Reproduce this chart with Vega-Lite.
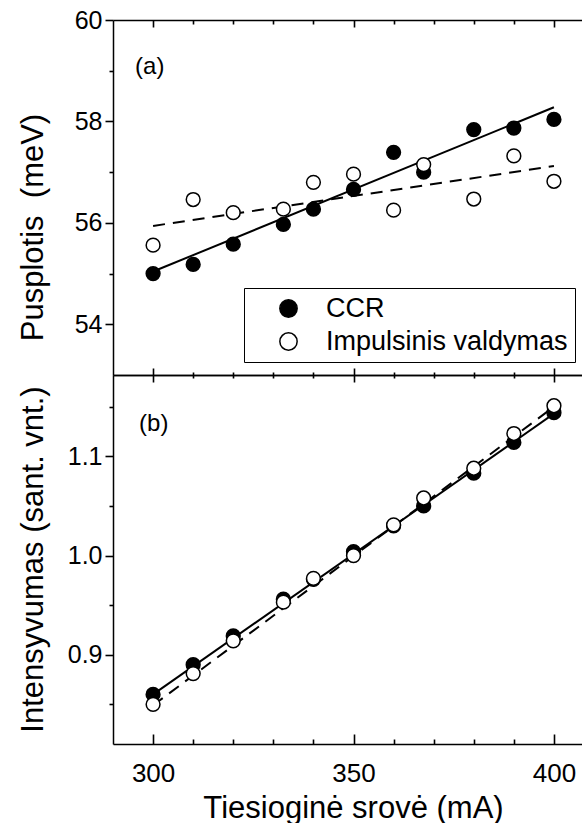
{
  "$schema": "https://vega.github.io/schema/vega-lite/v6.json",
  "padding": {"left": 16, "top": 8, "right": 0, "bottom": 0},
  "spacing": 0,
  "bounds": "flush",
  "background": "white",
  "config": {
    "font": "Liberation Sans",
    "view": {"stroke": null},
    "axis": {
      "domainColor": "black", "domainWidth": 1.5, "tickColor": "black", "tickWidth": 1.6,
      "labelColor": "black", "titleColor": "black", "labelFontSize": 25, "titleFontSize": 31,
      "titleFontWeight": "normal", "grid": false, "labelOverlap": false,
      "labelFont": "Liberation Sans", "titleFont": "Liberation Sans"
    }
  },
  "datasets": {
    "widthPoints": [
      {"series": "CCR", "current": 300, "value": 55.0},
      {"series": "CCR", "current": 310, "value": 55.18},
      {"series": "CCR", "current": 320, "value": 55.58},
      {"series": "CCR", "current": 332.5, "value": 55.97},
      {"series": "CCR", "current": 340, "value": 56.27},
      {"series": "CCR", "current": 350, "value": 56.66},
      {"series": "CCR", "current": 360, "value": 57.39},
      {"series": "CCR", "current": 367.5, "value": 57.0},
      {"series": "CCR", "current": 380, "value": 57.84},
      {"series": "CCR", "current": 390, "value": 57.87},
      {"series": "CCR", "current": 400, "value": 58.04},
      {"series": "Impulsinis valdymas", "current": 300, "value": 55.56},
      {"series": "Impulsinis valdymas", "current": 310, "value": 56.46},
      {"series": "Impulsinis valdymas", "current": 320, "value": 56.2},
      {"series": "Impulsinis valdymas", "current": 332.5, "value": 56.27},
      {"series": "Impulsinis valdymas", "current": 340, "value": 56.8},
      {"series": "Impulsinis valdymas", "current": 350, "value": 56.96},
      {"series": "Impulsinis valdymas", "current": 360, "value": 56.25},
      {"series": "Impulsinis valdymas", "current": 367.5, "value": 57.15},
      {"series": "Impulsinis valdymas", "current": 380, "value": 56.47},
      {"series": "Impulsinis valdymas", "current": 390, "value": 57.32},
      {"series": "Impulsinis valdymas", "current": 400, "value": 56.82}
    ],
    "widthFits": [
      {"series": "CCR", "current": 300, "value": 55.04},
      {"series": "CCR", "current": 400, "value": 58.28},
      {"series": "Impulsinis valdymas", "current": 300, "value": 55.94},
      {"series": "Impulsinis valdymas", "current": 400, "value": 57.12}
    ],
    "intPoints": [
      {"series": "CCR", "current": 300, "value": 0.86},
      {"series": "CCR", "current": 310, "value": 0.89},
      {"series": "CCR", "current": 320, "value": 0.919},
      {"series": "CCR", "current": 332.5, "value": 0.956},
      {"series": "CCR", "current": 340, "value": 0.976},
      {"series": "CCR", "current": 350, "value": 1.004},
      {"series": "CCR", "current": 360, "value": 1.03},
      {"series": "CCR", "current": 367.5, "value": 1.05},
      {"series": "CCR", "current": 380, "value": 1.083},
      {"series": "CCR", "current": 390, "value": 1.114},
      {"series": "CCR", "current": 400, "value": 1.144},
      {"series": "Impulsinis valdymas", "current": 300, "value": 0.85},
      {"series": "Impulsinis valdymas", "current": 310, "value": 0.881},
      {"series": "Impulsinis valdymas", "current": 320, "value": 0.914},
      {"series": "Impulsinis valdymas", "current": 332.5, "value": 0.953},
      {"series": "Impulsinis valdymas", "current": 340, "value": 0.977},
      {"series": "Impulsinis valdymas", "current": 350, "value": 1.0},
      {"series": "Impulsinis valdymas", "current": 360, "value": 1.031},
      {"series": "Impulsinis valdymas", "current": 367.5, "value": 1.058},
      {"series": "Impulsinis valdymas", "current": 380, "value": 1.088},
      {"series": "Impulsinis valdymas", "current": 390, "value": 1.123},
      {"series": "Impulsinis valdymas", "current": 400, "value": 1.151}
    ],
    "intFits": [
      {"series": "CCR", "current": 300, "value": 0.86},
      {"series": "CCR", "current": 400, "value": 1.143},
      {"series": "Impulsinis valdymas", "current": 300, "value": 0.849},
      {"series": "Impulsinis valdymas", "current": 400, "value": 1.15}
    ]
  },
  "resolve": {"legend": {"fill": "independent"}},
  "vconcat": [
    {
      "width": 471,
      "height": 355,
      "layer": [
        {
          "data": {"name": "widthFits"},
          "transform": [{"filter": "datum.series === 'CCR'"}],
          "mark": {"type": "line", "color": "black", "strokeWidth": 2},
          "encoding": {
            "x": {"field": "current", "type": "quantitative",
              "scale": {"domain": [290, 407.5], "nice": false, "zero": false},
              "axis": {"orient": "bottom", "offset": -355, "values": [300, 350, 400],
                "labels": false, "title": null, "tickSize": 7, "domain": true}},
            "y": {"field": "value", "type": "quantitative",
              "scale": {"domain": [53, 60], "nice": false, "zero": false},
              "axis": {"orient": "left", "values": [54, 55, 56, 57, 58, 59, 60],
                "tickSize": {"condition": {"test": "datum.value % 2 === 0", "value": 8}, "value": 4},
                "labelPadding": 3,
                "labelExpr": "datum.value % 2 === 0 ? datum.label : ''",
                "title": "Pusplotis\u00a0 (meV)", "titleX": -80, "titleY": 207, "titleAngle": -90,
                "titleAlign": "center", "titleBaseline": "middle"}}
          }
        },
        {
          "data": {"name": "widthFits"},
          "transform": [{"filter": "datum.series === 'Impulsinis valdymas'"}],
          "mark": {"type": "line", "color": "black", "strokeWidth": 2, "strokeDash": [12, 8]},
          "encoding": {
            "x": {"field": "current", "type": "quantitative",
              "axis": {"orient": "bottom", "offset": -355, "values": [310, 320, 330, 340, 360, 370, 380, 390],
                "labels": false, "title": null, "tickSize": 4, "domain": false}},
            "y": {"field": "value", "type": "quantitative"}
          }
        },
        {
          "data": {"name": "widthPoints"},
          "transform": [{"filter": "datum.series === 'CCR'"}],
          "mark": {"type": "point", "shape": "circle", "filled": true, "stroke": "black", "strokeWidth": 1.5, "size": 190, "opacity": 1},
          "encoding": {
            "x": {"field": "current", "type": "quantitative",
              "axis": {"orient": "top", "offset": -355, "values": [300, 350, 400],
                "labels": false, "title": null, "tickSize": 7, "domain": true}},
            "y": {"field": "value", "type": "quantitative"},
            "fill": {"field": "series", "type": "nominal",
              "scale": {"domain": ["CCR", "Impulsinis valdymas"], "range": ["black", "white"]},
              "legend": {"orient": "none", "legendX": 131, "legendY": 268, "title": null,
                "strokeColor": "black", "fillColor": "white", "padding": 7,
                "symbolType": "circle", "symbolSize": 300, "symbolStrokeColor": "black", "symbolStrokeWidth": 1.5,
                "labelFontSize": 27, "labelColor": "black", "labelLimit": 500,
                "symbolOffset": 24, "labelOffset": 24, "rowPadding": 5}}
          }
        },
        {
          "data": {"name": "widthPoints"},
          "transform": [{"filter": "datum.series === 'Impulsinis valdymas'"}],
          "mark": {"type": "point", "shape": "circle", "filled": true, "stroke": "black", "strokeWidth": 1.5, "size": 190, "opacity": 1},
          "encoding": {
            "x": {"field": "current", "type": "quantitative",
              "axis": {"orient": "top", "offset": -355, "values": [310, 320, 330, 340, 360, 370, 380, 390],
                "labels": false, "title": null, "tickSize": 3, "domain": false}},
            "y": {"field": "value", "type": "quantitative"},
            "fill": {"field": "series", "type": "nominal",
              "scale": {"domain": ["CCR", "Impulsinis valdymas"], "range": ["black", "white"]},
              "legend": {"orient": "none", "legendX": 131, "legendY": 268, "title": null,
                "strokeColor": "black", "fillColor": "white", "padding": 7,
                "symbolType": "circle", "symbolSize": 300, "symbolStrokeColor": "black", "symbolStrokeWidth": 1.5,
                "labelFontSize": 27, "labelColor": "black", "labelLimit": 500,
                "symbolOffset": 24, "labelOffset": 24, "rowPadding": 5}}
          }
        },
        {
          "data": {"values": [{"panel": "(a)"}]},
          "mark": {"type": "text", "align": "left", "baseline": "top", "fontSize": 24, "color": "black"},
          "encoding": {
            "text": {"field": "panel", "type": "nominal"},
            "x": {"datum": 295.5, "type": "quantitative", "axis": null},
            "y": {"datum": 59.31, "type": "quantitative"}
          }
        }
      ],
      "resolve": {"axis": {"x": "independent"}}
    },
    {
      "width": 471,
      "height": 369,
      "layer": [
        {
          "data": {"name": "intFits"},
          "transform": [{"filter": "datum.series === 'CCR'"}],
          "mark": {"type": "line", "color": "black", "strokeWidth": 2},
          "encoding": {
            "x": {"field": "current", "type": "quantitative",
              "scale": {"domain": [290, 407.5], "nice": false, "zero": false},
              "axis": {"orient": "bottom", "offset": -369, "values": [300, 350, 400],
                "labels": false, "title": null, "tickSize": 7, "domain": true}},
            "y": {"field": "value", "type": "quantitative",
              "scale": {"domain": [0.81, 1.182], "nice": false, "zero": false},
              "axis": {"orient": "left", "values": [0.85, 0.9, 0.95, 1.0, 1.05, 1.1, 1.15],
                "format": ".1f",
                "tickSize": {"condition": {"test": "abs(datum.value * 10 - round(datum.value * 10)) < 0.001", "value": 8}, "value": 4},
                "labelPadding": 3,
                "labelExpr": "abs(datum.value * 10 - round(datum.value * 10)) < 0.001 ? datum.label : ''",
                "title": "Intensyvumas (sant. vnt.)", "titleX": -80, "titleY": 184, "titleAngle": -90,
                "titleAlign": "center", "titleBaseline": "middle"}}
          }
        },
        {
          "data": {"name": "intFits"},
          "transform": [{"filter": "datum.series === 'Impulsinis valdymas'"}],
          "mark": {"type": "line", "color": "black", "strokeWidth": 2, "strokeDash": [12, 8]},
          "encoding": {
            "x": {"field": "current", "type": "quantitative",
              "axis": {"orient": "bottom", "offset": -369, "values": [310, 320, 330, 340, 360, 370, 380, 390],
                "labels": false, "title": null, "tickSize": 3, "domain": false}},
            "y": {"field": "value", "type": "quantitative"}
          }
        },
        {
          "data": {"name": "intPoints"},
          "transform": [{"filter": "datum.series === 'CCR'"}],
          "mark": {"type": "point", "shape": "circle", "filled": true, "stroke": "black", "strokeWidth": 1.5, "size": 190, "opacity": 1},
          "encoding": {
            "x": {"field": "current", "type": "quantitative",
              "axis": {"orient": "bottom", "values": [300, 350, 400],
                "ticks": false, "labelPadding": 16, "labelFontSize": 26,
                "title": "Tiesioginė srovė (mA)", "titleX": 240, "titleY": 73, "titleBaseline": "alphabetic", "titleAlign": "center"}},
            "y": {"field": "value", "type": "quantitative"},
            "fill": {"field": "series", "type": "nominal",
              "scale": {"domain": ["CCR", "Impulsinis valdymas"], "range": ["black", "white"]},
              "legend": null}
          }
        },
        {
          "data": {"name": "intPoints"},
          "transform": [{"filter": "datum.series === 'Impulsinis valdymas'"}],
          "mark": {"type": "point", "shape": "circle", "filled": true, "stroke": "black", "strokeWidth": 1.5, "size": 190, "opacity": 1},
          "encoding": {
            "x": {"field": "current", "type": "quantitative",
              "axis": {"orient": "top", "offset": -369, "values": [300, 350, 400],
                "labels": false, "title": null, "tickSize": 10, "domain": false}},
            "y": {"field": "value", "type": "quantitative"},
            "fill": {"field": "series", "type": "nominal",
              "scale": {"domain": ["CCR", "Impulsinis valdymas"], "range": ["black", "white"]},
              "legend": null}
          }
        },
        {
          "data": {"values": [{"panel": "(b)"}]},
          "mark": {"type": "text", "align": "left", "baseline": "top", "fontSize": 24, "color": "black"},
          "encoding": {
            "text": {"field": "panel", "type": "nominal"},
            "x": {"datum": 296.5, "type": "quantitative",
              "axis": {"orient": "top", "offset": -369, "values": [310, 320, 330, 340, 360, 370, 380, 390],
                "labels": false, "title": null, "domain": false, "tickSize": 5}},
            "y": {"datum": 1.1447, "type": "quantitative"}
          }
        }
      ],
      "resolve": {"axis": {"x": "independent"}}
    }
  ]
}
